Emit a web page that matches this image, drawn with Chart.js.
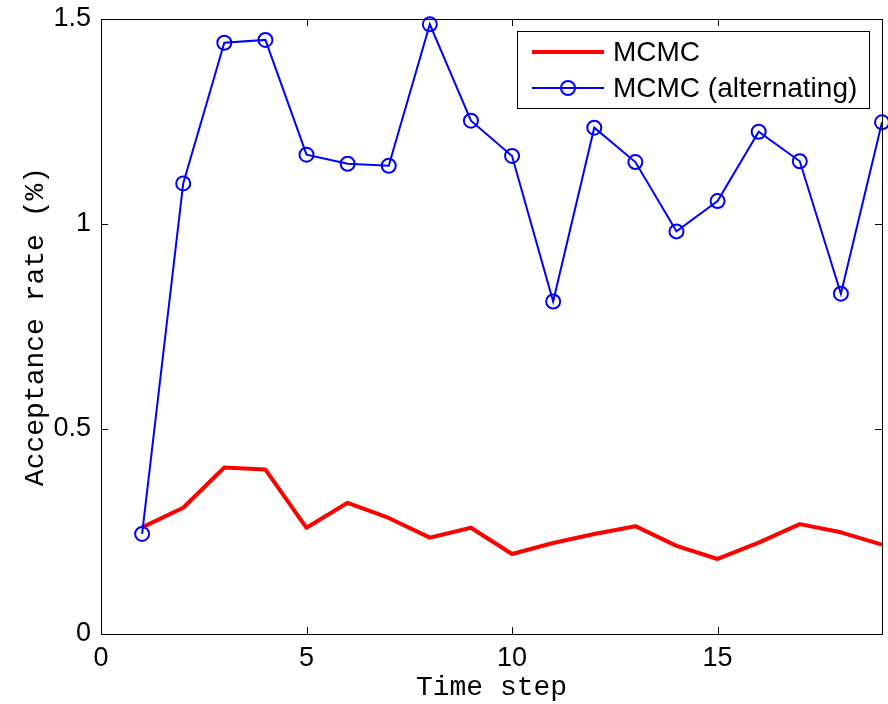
<!DOCTYPE html>
<html>
<head>
<meta charset="utf-8">
<script src="https://cdn.jsdelivr.net/npm/chart.js@4.4.0/dist/chart.umd.min.js"></script>
<style>
    html, body { margin: 0; padding: 0; background: #fff; }
    #wrap { width: 888px; height: 704px; }
</style>
</head>
<body>
<div id="wrap"><canvas id="rateChart" width="888" height="704"></canvas></div>
<script>
// Data
const timeSteps = [1, 2, 3, 4, 5, 6, 7, 8, 9, 10, 11, 12, 13, 14, 15, 16, 17, 18, 19];
const mcmcRate = [0.260, 0.308, 0.406, 0.401, 0.259, 0.320, 0.283, 0.235, 0.259, 0.195,
                  0.222, 0.244, 0.263, 0.215, 0.183, 0.223, 0.268, 0.248, 0.218];
const alternatingRate = [0.244, 1.099, 1.442, 1.449, 1.169, 1.147, 1.142, 1.487, 1.252, 1.166,
                         0.811, 1.235, 1.151, 0.982, 1.056, 1.225, 1.153, 0.830, 1.248];
const seriesLabels = ['MCMC', 'MCMC (alternating)'];
const xTickValues = [0, 5, 10, 15];
const yTickValues = [0, 0.5, 1, 1.5];

const tickFont = { family: '"Liberation Sans", Arial, Helvetica, sans-serif', size: 27 };
const titleFont = { family: '"Liberation Mono", "Courier New", monospace', size: 28 };

// Box around the axes with inward tick marks (MATLAB style)
const framePlugin = {
    id: 'frame',
    afterDatasetsDraw(chart) {
        const { ctx, chartArea: a, scales: { x, y } } = chart;
        const len = 7;
        ctx.save();
        ctx.strokeStyle = '#000';
        ctx.lineWidth = 1;
        ctx.strokeRect(a.left + 0.5, a.top + 0.5, a.right - a.left, a.bottom - a.top);
        ctx.beginPath();
        xTickValues.forEach(v => {
            const px = Math.round(x.getPixelForValue(v)) + 0.5;
            ctx.moveTo(px, a.bottom); ctx.lineTo(px, a.bottom - len);
            ctx.moveTo(px, a.top); ctx.lineTo(px, a.top + len);
        });
        yTickValues.forEach(v => {
            const py = Math.round(y.getPixelForValue(v)) + 0.5;
            ctx.moveTo(a.left, py); ctx.lineTo(a.left + len, py);
            ctx.moveTo(a.right, py); ctx.lineTo(a.right - len, py);
        });
        ctx.stroke();
        ctx.restore();
    }
};

// Boxed legend in the upper right corner
const legendPlugin = {
    id: 'boxLegend',
    afterDraw(chart) {
        const { ctx, chartArea } = chart;
        const w = 352, h = 77;
        const left = Math.round(chartArea.right - 13 - w);
        const top = Math.round(chartArea.top + 12);
        ctx.save();
        ctx.fillStyle = '#fff';
        ctx.fillRect(left, top, w, h);
        ctx.strokeStyle = '#000';
        ctx.lineWidth = 1;
        ctx.strokeRect(left + 0.5, top + 0.5, w, h);
        ctx.font = '28px "Liberation Sans", Arial, Helvetica, sans-serif';
        ctx.textBaseline = 'middle';
        chart.data.datasets.forEach((ds, i) => {
            const cy = top + 21 + i * 36;
            ctx.strokeStyle = ds.borderColor;
            ctx.lineWidth = ds.borderWidth;
            ctx.beginPath();
            ctx.moveTo(left + 15, cy);
            ctx.lineTo(left + 87, cy);
            ctx.stroke();
            if (ds.pointRadius) {
                ctx.lineWidth = ds.pointBorderWidth;
                ctx.beginPath();
                ctx.arc(left + 51, cy, ds.pointRadius, 0, Math.PI * 2);
                ctx.stroke();
            }
            ctx.fillStyle = '#000';
            ctx.fillText(ds.label, left + 96, cy + 1);
        });
        ctx.restore();
    }
};

new Chart(document.getElementById('rateChart'), {
    type: 'line',
    data: {
        datasets: [{
            label: seriesLabels[0],
            data: timeSteps.map((t, i) => ({ x: t, y: mcmcRate[i] })),
            borderColor: '#ff0000',
            borderWidth: 4,
            borderJoinStyle: 'round',
            pointRadius: 0,
            tension: 0,
            order: 1,
            clip: false
        }, {
            label: seriesLabels[1],
            data: timeSteps.map((t, i) => ({ x: t, y: alternatingRate[i] })),
            borderColor: '#0000ff',
            borderWidth: 2,
            pointRadius: 7,
            pointBorderWidth: 2,
            pointBorderColor: '#0000ff',
            pointBackgroundColor: 'rgba(0,0,0,0)',
            tension: 0,
            order: 0,
            clip: false
        }]
    },
    options: {
        responsive: false,
        animation: false,
        layout: { autoPadding: false, padding: { top: 19, right: 6, bottom: 0, left: 0 } },
        plugins: {
            legend: { display: false },
            tooltip: { enabled: false }
        },
        scales: {
            x: {
                type: 'linear',
                min: 0,
                max: 19,
                afterBuildTicks: s => { s.ticks = xTickValues.map(v => ({ value: v })); },
                afterFit: s => {
                    s.height = 70;
                    s.paddingLeft = 0;
                    s.paddingRight = 0;
                },
                grid: { display: false, drawTicks: false },
                border: { display: false },
                ticks: {
                    color: '#000',
                    font: tickFont,
                    padding: 8,
                    maxRotation: 0,
                    autoSkip: false,
                    callback: v => String(v)
                },
                title: {
                    display: true,
                    text: 'Time step',
                    color: '#000',
                    font: titleFont,
                    padding: { top: 0, bottom: 0 }
                }
            },
            y: {
                type: 'linear',
                min: 0,
                max: 1.5,
                afterBuildTicks: s => { s.ticks = yTickValues.map(v => ({ value: v })); },
                afterFit: s => {
                    s.width = 101;
                    s.paddingTop = 0;
                    s.paddingBottom = 0;
                },
                grid: { display: false, drawTicks: false },
                border: { display: false },
                ticks: {
                    color: '#000',
                    font: tickFont,
                    padding: 10,
                    autoSkip: false,
                    callback: v => String(v)
                },
                title: {
                    display: true,
                    text: 'Acceptance rate (%)',
                    color: '#000',
                    font: titleFont,
                    padding: { top: 19, bottom: 0 }
                }
            }
        }
    },
    plugins: [framePlugin, legendPlugin]
});
</script>
</body>
</html>
